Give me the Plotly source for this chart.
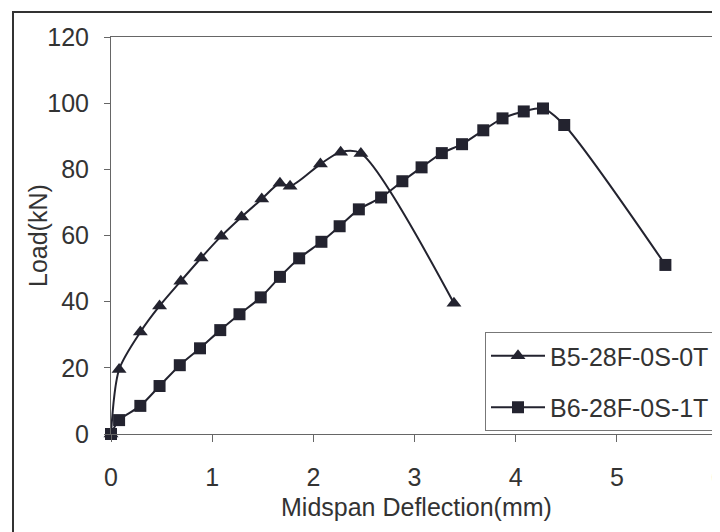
import plotly.graph_objects as go

# B5-28F-0S-0T (triangles)
b5_x = [0.0, 0.08, 0.29, 0.48, 0.69, 0.89, 1.09, 1.29, 1.49, 1.67, 1.77, 2.07, 2.27, 2.47, 3.39]
b5_y = [0.0, 19.5, 30.8, 38.7, 46.2, 53.2, 59.8, 65.6, 71.0, 75.8, 74.9, 81.6, 85.2, 84.8, 39.5]

# B6-28F-0S-1T (squares)
b6_x = [0.0, 0.08, 0.29, 0.48, 0.68, 0.88, 1.08, 1.27, 1.48, 1.67, 1.86, 2.08, 2.26, 2.45,
        2.67, 2.88, 3.07, 3.27, 3.47, 3.68, 3.87, 4.08, 4.27, 4.48, 5.48]
b6_y = [0.0, 4.2, 8.5, 14.5, 20.8, 25.9, 31.4, 36.2, 41.3, 47.5, 53.1, 58.1, 62.8, 67.9,
        71.5, 76.4, 80.6, 84.9, 87.6, 91.8, 95.4, 97.5, 98.4, 93.4, 51.1]

names = ["B5-28F-0S-0T", "B6-28F-0S-1T"]
x_ticks = [0, 1, 2, 3, 4, 5, 6]
y_ticks = [0, 20, 40, 60, 80, 100, 120]
x_title = "Midspan Deflection(mm)"
y_title = "Load(kN)"

ink = "#23232f"
txt = "#333333"
font_family = "Liberation Sans, Arial, sans-serif"

fig = go.Figure()
fig.add_trace(go.Scatter(
    x=b5_x, y=b5_y, name=names[0], mode="lines+markers",
    line=dict(color=ink, width=2, shape="spline", smoothing=0.8),
    marker=dict(symbol="triangle-up", size=13, color=ink),
    cliponaxis=False, legendgroup="a"))
fig.add_trace(go.Scatter(
    x=b6_x, y=b6_y, name=names[1], mode="lines+markers",
    line=dict(color=ink, width=2, shape="spline", smoothing=0.8),
    marker=dict(symbol="square", size=12, color=ink),
    cliponaxis=False, legendgroup="b"))

# page has an 8px body margin; the figure is sized to fill the rest of the window
OFF = 8
W, H = 720 - OFF, 532 - OFF
PL, PR, PT, PB = 111, 718, 37, 434          # plot area in window pixels
L, R, T, B = PL - OFF, (720 - PR), PT - OFF, (532 - PB)
pw, ph = PR - PL, PB - PT

def px_x(p):
    return (p - PL) / pw

def px_y(p):
    return (PB - p) / ph

fig.update_layout(
    width=W, height=H,
    margin=dict(l=L, r=R, t=T, b=B, pad=0, autoexpand=False),
    paper_bgcolor="white", plot_bgcolor="white",
    font=dict(family=font_family, size=25, color=txt),
    showlegend=True,
    legend=dict(
        x=px_x(485), y=px_y(332), xanchor="left", yanchor="top",
        bgcolor="white", bordercolor="#777777", borderwidth=1,
        font=dict(size=25, color=txt),
        tracegroupgap=16, itemwidth=54,
    ),
    xaxis=dict(
        range=[0, 6], tickvals=x_ticks, ticktext=[str(v) for v in x_ticks],
        showgrid=False, zeroline=False, automargin=False,
        ticklabeloverflow="allow",
        showline=True, linecolor="#666666", linewidth=1, mirror=True,
        ticks="outside", ticklen=7, tickcolor="#666666",
        ticklabelstandoff=14,
    ),
    yaxis=dict(
        range=[0, 120], tickvals=y_ticks, ticktext=[str(v) for v in y_ticks],
        showgrid=False, zeroline=False, automargin=False,
        ticklabeloverflow="allow",
        showline=True, linecolor="#666666", linewidth=1, mirror=True,
        ticks="outside", ticklen=6, tickcolor="#666666",
        ticklabelstandoff=10,
    ),
    annotations=[
        dict(text=x_title, xref="paper", yref="paper",
             x=px_x(416), y=px_y(507), xanchor="center", yanchor="middle",
             showarrow=False, font=dict(size=25, color=txt)),
        dict(text=y_title, xref="paper", yref="paper", textangle=-90,
             x=px_x(38), y=px_y(236), xanchor="center", yanchor="middle",
             showarrow=False, font=dict(size=25, color=txt)),
    ],
    shapes=[dict(
        type="rect", xref="paper", yref="paper",
        x0=px_x(13), x1=px_x(740), y0=px_y(560), y1=px_y(12),
        line=dict(color="#333333", width=2), fillcolor="rgba(0,0,0,0)",
        layer="above")],
)

fig.write_html("out.html")
